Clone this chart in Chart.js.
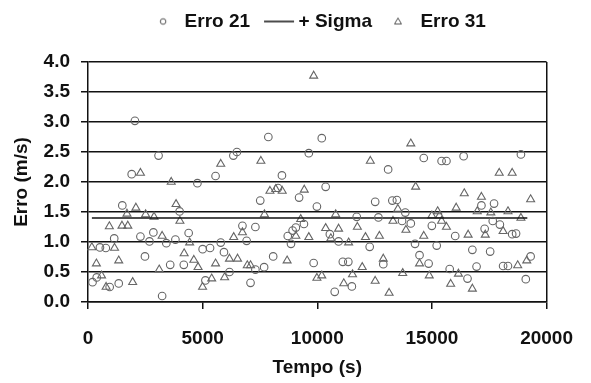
<!DOCTYPE html>
<html>
<head>
<meta charset="utf-8">
<script src="https://cdn.jsdelivr.net/npm/chart.js@4"></script>
<style>
  html, body { margin: 0; padding: 0; background: #fff; }
</style>
</head>
<body>
<canvas id="graf" width="591" height="383"></canvas>
<script>
// Erro 21 (kolecka)
const tempo21 = [2046, 3077, 1905, 4771, 1496, 3995, 1143, 2286, 2851, 2682, 3416, 3812, 4390, 521, 776, 5000, 2484, 3585, 4178, 197, 380, 945, 1340, 3233, 5120,
  7865, 6495, 6340, 9630, 5563, 8458, 8288, 9206, 7512, 9983, 9418, 6735, 7300, 6919, 8712, 8924, 9065, 8853, 5789, 5323, 5930, 8076, 9841, 7300, 7681, 6170, 7088,
  10195, 13090, 14643, 10365, 12525, 13273, 13471, 13838, 11720, 12666, 13697, 14078, 14996, 10548, 10929, 12285, 14262, 15208, 11113, 11353, 12878, 14459, 14855, 11508, 10760,
  15421, 15633, 16382, 18881, 17709, 17158, 17652, 17963, 18500, 18669, 16015, 17299, 16763, 17539, 16946, 18104, 18316, 19304, 15774, 16551, 19093];
const erro21 = [3.02, 2.44, 2.13, 1.98, 1.61, 1.51, 1.06, 1.09, 1.16, 1.01, 0.98, 1.04, 1.15, 0.91, 0.90, 0.88, 0.76, 0.62, 0.62, 0.33, 0.41, 0.25, 0.31, 0.10, 0.36,
  2.75, 2.50, 2.44, 2.48, 2.10, 2.11, 1.90, 1.74, 1.69, 1.59, 1.30, 1.27, 1.25, 1.02, 1.10, 1.19, 1.24, 0.97, 0.99, 0.90, 0.83, 0.76, 0.65, 0.54, 0.58, 0.50, 0.32,
  2.73, 2.21, 2.40, 1.92, 1.67, 1.69, 1.70, 1.49, 1.42, 1.41, 1.35, 1.31, 1.27, 1.13, 1.01, 0.92, 0.97, 0.94, 0.67, 0.67, 0.63, 0.78, 0.64, 0.26, 0.17,
  2.35, 2.35, 2.43, 2.46, 1.64, 1.61, 1.35, 1.29, 1.13, 1.14, 1.10, 1.22, 0.87, 0.84, 0.59, 0.60, 0.60, 0.76, 0.55, 0.39, 0.38];

// Erro 31 (trojuhelniky)
const tempo31 = [2512, 2880, 3840, 4009, 2089, 931, 1482, 1736, 3233, 4433, 168, 1157, 4193, 4616, 4800, 1340, 366, 3106, 592, 790, 1948, 4997, 3630, 2288, 1700,
  5789, 7540, 7935, 8190, 8472, 9432, 7695, 9277, 6735, 6354, 9065, 9630, 5563, 6170, 6523, 8684, 6947, 7088, 5958, 5394, 9983, 9843,
  14078, 12313, 14290, 13513, 10802, 13302, 13866, 14996, 15250, 11748, 10365, 10929, 10591, 11367, 12101, 12709, 14643, 12878, 14459, 11960, 13725, 14883, 11536, 10195, 11155, 12525, 13132,
  17935, 18500, 16410, 17158, 19304, 16057, 16975, 17568, 18317, 18881, 15330, 15421, 15633, 18104, 16579, 17327, 18740, 19135, 16156, 15817, 16763];
const erro31 = [1.46, 1.42, 1.63, 1.35, 1.57, 1.26, 1.27, 1.27, 1.10, 0.99, 0.91, 0.90, 0.81, 0.70, 0.58, 0.69, 0.64, 0.54, 0.44, 0.25, 0.33, 0.25, 2.00, 2.15, 1.47,
  2.30, 2.35, 1.85, 1.88, 1.85, 1.87, 1.46, 1.38, 1.16, 1.08, 1.10, 1.08, 0.64, 0.72, 0.72, 0.69, 0.61, 0.61, 0.41, 0.39, 0.40, 3.77,
  2.64, 2.35, 1.92, 1.55, 1.46, 1.35, 1.20, 1.44, 1.51, 1.25, 1.23, 1.22, 1.06, 0.99, 1.08, 1.10, 1.10, 0.72, 0.64, 0.58, 0.48, 0.44, 0.46, 0.44, 0.31, 0.35, 0.15,
  2.15, 2.15, 1.81, 1.75, 1.71, 1.57, 1.51, 1.49, 1.51, 1.40, 1.44, 1.35, 1.25, 1.18, 1.12, 1.12, 0.61, 0.69, 0.47, 0.30, 0.22];

// + Sigma
const tempoSigma = [170, 19160];
const sigma = [1.4, 1.4];

const xTicks = [0, 5000, 10000, 15000, 20000];
const yTicks = [0, 0.5, 1.0, 1.5, 2.0, 2.5, 3.0, 3.5, 4.0];

const pismo = { family: "'Liberation Sans', Arial, sans-serif", weight: 'bold', size: 19 };
const cerna = '#111';

// ikonky do legendy
function ikona(tvar) {
  const c = document.createElement('canvas');
  c.width = 60; c.height = 20;
  const g = c.getContext('2d');
  g.strokeStyle = '#555'; g.lineWidth = 1;
  g.beginPath();
  if (tvar === 'circle') {
    g.arc(33, 10, 2.8, 0, Math.PI * 2);
  } else if (tvar === 'line') {
    g.strokeStyle = cerna; g.lineWidth = 1.5;
    g.moveTo(20, 10); g.lineTo(50, 10);
  } else {
    g.moveTo(32, 6.5); g.lineTo(35.5, 12.5); g.lineTo(28.5, 12.5); g.closePath();
  }
  g.stroke();
  return c;
}
const ikony = [ikona('circle'), ikona('line'), ikona('triangle')];

const body = (xs, ys) => xs.map((t, i) => ({ x: t, y: ys[i] }));

const posunLegendy = {
  id: 'posunLegendy',
  afterLayout(chart) {
    chart.legend.left += 34;
    chart.legend.right += 34;
  }
};

const ctx = document.getElementById('graf').getContext('2d');
const graf = new Chart(ctx, {
  type: 'scatter',
  data: {
    datasets: [{
      label: 'Erro 21',
      data: body(tempo21, erro21),
      pointStyle: 'circle',
      pointRadius: 3.8,
      borderColor: '#666',
      borderWidth: 1.1,
      backgroundColor: 'rgba(255,255,255,0)'
    }, {
      label: '+ Sigma',
      data: body(tempoSigma, sigma),
      showLine: true,
      pointRadius: 0,
      borderColor: cerna,
      borderWidth: 1.5,
      backgroundColor: cerna
    }, {
      label: 'Erro 31',
      data: body(tempo31, erro31),
      pointStyle: 'triangle',
      pointRadius: 4.6,
      borderColor: '#666',
      borderWidth: 1.1,
      backgroundColor: 'rgba(255,255,255,0)'
    }]
  },
  options: {
    responsive: false,
    animation: false,
    layout: { padding: { top: 3, right: 28, left: 0, bottom: 0 } },
    plugins: {
      tooltip: { enabled: false },
      legend: {
        position: 'top',
        labels: {
          usePointStyle: true,
          pointStyleWidth: 30,
          padding: 9,
          color: '#111',
          font: pismo,
          generateLabels: function(chart) {
            const polozky = Chart.defaults.plugins.legend.labels.generateLabels(chart);
            polozky.forEach(p => { p.pointStyle = ikony[p.datasetIndex]; });
            return polozky;
          }
        }
      }
    },
    scales: {
      xHore: {
        type: 'linear',
        position: 'top',
        display: true,
        grid: { display: false },
        border: { display: false },
        ticks: { display: false },
        afterFit: s => {
          const lg = s.chart.legend;
          s.height = Math.max(0, 59 - (lg && lg.height ? lg.height : 0));
        }
      },
      x: {
        type: 'linear',
        position: 'bottom',
        min: xTicks[0],
        max: xTicks[xTicks.length - 1],
        afterFit: s => { s.height = 81; },
        afterBuildTicks: s => { s.ticks = xTicks.map(v => ({ value: v })); },
        ticks: { padding: 18, color: '#111', font: pismo, maxRotation: 0, callback: v => String(v) },
        grid: {
          color: c => (c.tick && c.tick.value === 20000) ? cerna : 'rgba(0,0,0,0)',
          lineWidth: 1.5,
          tickColor: cerna,
          tickLength: 7
        },
        border: { color: cerna, width: 1.5 },
        title: { display: true, text: 'Tempo (s)', color: '#111', font: pismo, padding: { top: 0, bottom: 4 } }
      },
      y: {
        min: yTicks[0],
        max: yTicks[yTicks.length - 1],
        afterFit: s => { s.width = 88; },
        afterBuildTicks: s => { s.ticks = yTicks.map(v => ({ value: v })); },
        ticks: { padding: 11, color: '#111', font: pismo, callback: v => v.toFixed(1) },
        grid: { color: cerna, lineWidth: 1.5, tickColor: cerna, tickLength: 7 },
        border: { color: cerna, width: 1.5 },
        title: { display: true, text: 'Erro (m/s)', color: '#111', font: pismo, padding: { top: 10, bottom: 0 } }
      }
    }
  },
  plugins: [posunLegendy]
});
</script>
</body>
</html>
